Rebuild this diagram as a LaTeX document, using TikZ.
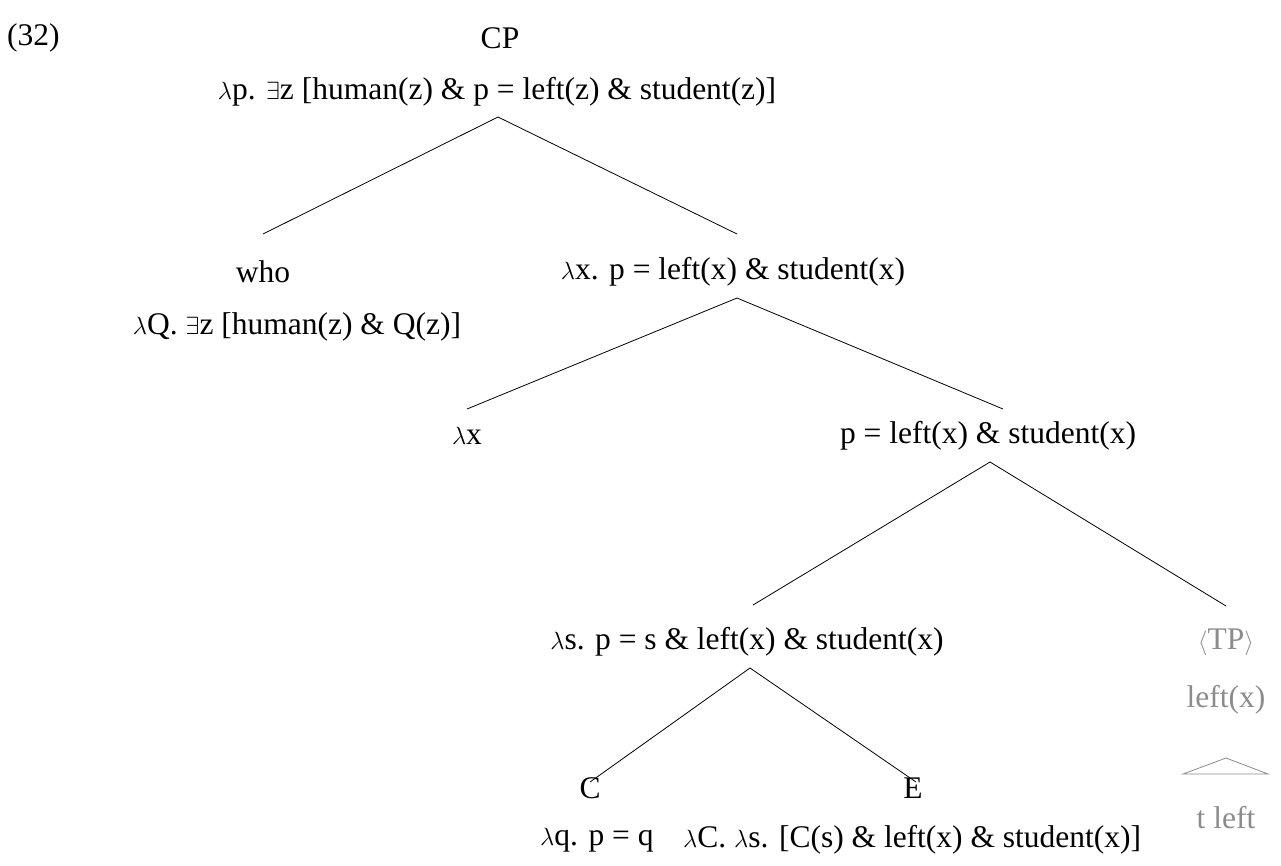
\documentclass[tikz,border=0pt]{standalone}
\usepackage{fontspec}
\setmainfont{Liberation Serif}
\begin{document}
\begin{tikzpicture}[x=1pt,y=-1pt,
  lbl/.style={inner sep=0pt,font=\fontsize{31.5}{36}\selectfont},
  gl/.style={lbl,text=gray!90},
  br/.style={line width=0.8pt}]
\useasboundingbox (0,0) rectangle (1281,865);
\node[lbl,anchor=west] (num) at (7,38) {(32)};
\node[lbl] (cp) at (500,38) {CP};
\node[lbl] (root) at (497,92) {$\lambda$p. $\exists$z [human(z) \& p = left(z) \& student(z)]};
\coordinate (a1) at (498,117);
\node[lbl] (who) at (263,272) {who};
\node[lbl] (whos) at (297,327) {$\lambda$Q. $\exists$z [human(z) \& Q(z)]};
\node[lbl] (lx1) at (733,272) {$\lambda$x. p = left(x) \& student(x)};
\coordinate (w1) at (263,234);
\coordinate (l1) at (737,234);
\draw[br] (w1) -- (a1) -- (l1);
\coordinate (a2) at (737,298);
\node[lbl] (lx) at (467,436) {$\lambda$x};
\node[lbl] (pl) at (988,436) {p = left(x) \& student(x)};
\coordinate (b1) at (467,409);
\coordinate (b2) at (1003,409);
\draw[br] (b1) -- (a2) -- (b2);
\coordinate (a3) at (990,462);
\node[lbl] (ls) at (747,642) {$\lambda$s. p = s \& left(x) \& student(x)};
\node[gl] (tp) at (1226,642) {$\langle$TP$\rangle$};
\node[gl] (lf) at (1226,700) {left(x)};
\node[gl] (tl) at (1226,818) {t left};
\coordinate (c1) at (753,605);
\coordinate (c2) at (1226,606);
\draw[br] (c1) -- (a3) -- (c2);
\coordinate (t0) at (1226,758);
\coordinate (t1) at (1183,774);
\coordinate (t2) at (1268,774);
\draw[br,gray!90] (t1) -- (t0) -- (t2) -- cycle;
\coordinate (a4) at (750,668);
\node[lbl] (c) at (590,788) {C};
\node[lbl] (e) at (913,788) {E};
\coordinate (d1) at (590,782);
\coordinate (d2) at (916,782);
\draw[br] (d1) -- (a4) -- (d2);
\node[lbl,anchor=west] (cs) at (540,840) {$\lambda$q. p = q};
\node[lbl,anchor=west] (es) at (683,840) {$\lambda$C. $\lambda$s. [C(s) \& left(x) \& student(x)]};
\end{tikzpicture}
\end{document}
